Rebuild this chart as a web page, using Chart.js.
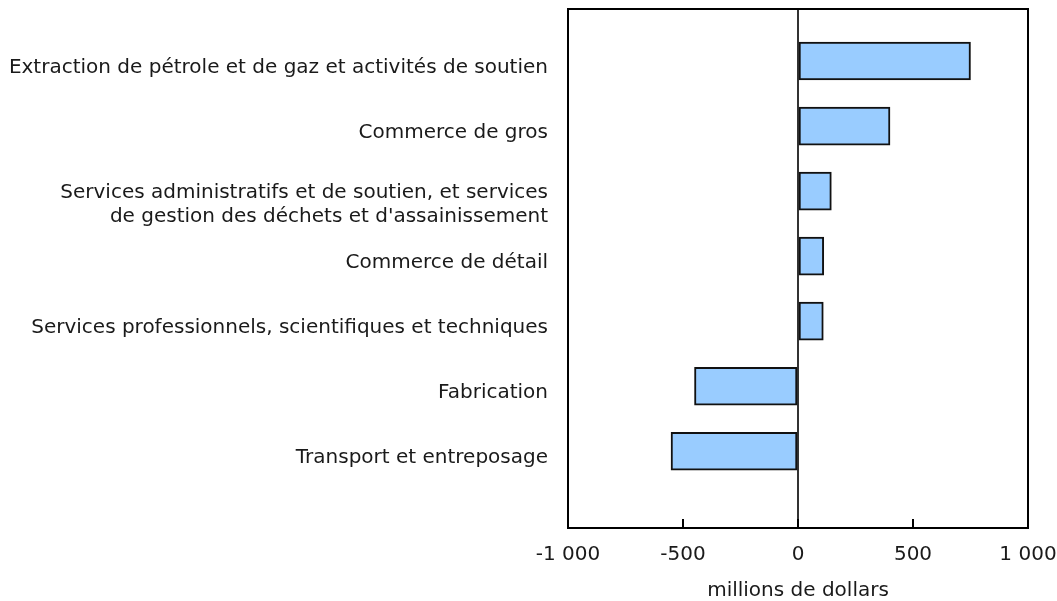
<!DOCTYPE html>
<html><head><meta charset="utf-8">
<script src="https://cdn.jsdelivr.net/npm/chart.js@4/dist/chart.umd.min.js"></script>
<style>html,body{margin:0;padding:0;background:#fff}#wrap{width:1057px;height:601px;position:relative}</style>
</head><body><div id="wrap"><canvas id="c"></canvas></div>
<script>
const categories = [
  'Extraction de pétrole et de gaz et activités de soutien',
  'Commerce de gros',
  ['Services administratifs et de soutien, et services', "de gestion des déchets et d'assainissement"],
  'Commerce de détail',
  'Services professionnels, scientifiques et techniques',
  'Fabrication',
  'Transport et entreposage'
];
const values = [750, 400, 145, 112, 110, -450, -552];
const xTickValues = [-1000, -500, 0, 500, 1000];
const xTickLabels = ['-1 000', '-500', '0', '500', '1 000'];
const xTitle = 'millions de dollars';

const FONT = {family: '"DejaVu Sans", Verdana, sans-serif', size: 20, lineHeight: 1.2};
const TITLE_FONT = {family: '"DejaVu Sans", Verdana, sans-serif', size: 20, lineHeight: 1.0};
const TEXT = '#1a1a1a';
const SINGLE_SHIFT = 0.1, MULTI_SHIFT = 0.218, LINE_STEP = 0.369;

const yTicks = [];
categories.forEach((c, i) => {
  const lines = Array.isArray(c) ? c : [c];
  const n = lines.length;
  lines.forEach((ln, j) => {
    yTicks.push({value: i + (n > 1 ? MULTI_SHIFT : SINGLE_SHIFT) + (j - (n - 1) / 2) * LINE_STEP, txt: ln});
  });
});

const framePlugin = {
  id: 'frame',
  afterDatasetsDraw(chart) {
    const {ctx, chartArea: a} = chart;
    ctx.save();
    ctx.strokeStyle = '#000';
    ctx.lineWidth = 2;
    ctx.strokeRect(a.left, a.top, a.right - a.left, a.bottom - a.top);
    ctx.restore();
  }
};

new Chart(document.getElementById('c'), {
  type: 'bar',
  data: {
    datasets: [{
      data: values.map((v, i) => ({x: v, y: i})),
      backgroundColor: '#99CCFF',
      borderColor: '#111',
      borderWidth: 2,
      borderSkipped: false,
      barThickness: 38
    }]
  },
  options: {
    indexAxis: 'y',
    responsive: true,
    maintainAspectRatio: false,
    animation: false,
    layout: {padding: {top: 9, right: 29, left: 0, bottom: 0}},
    plugins: {legend: {display: false}, tooltip: {enabled: false}},
    scales: {
      x: {
        type: 'linear', position: 'bottom', min: -1000, max: 1000, offset: false,
        afterBuildTicks(s) { s.ticks = xTickValues.map(v => ({value: v})); },
        ticks: {callback: (v, i) => xTickLabels[i], font: FONT, color: TEXT, padding: 24, maxRotation: 0, autoSkip: false},
        grid: {
          color: c => (c.tick && c.tick.value === 0) ? '#333' : 'rgba(0,0,0,0)',
          lineWidth: 2, drawTicks: true, tickLength: -9, tickColor: '#000', tickWidth: 2, offset: false
        },
        border: {display: false},
        title: {display: true, text: xTitle, font: TITLE_FONT, color: TEXT, padding: {top: 0, bottom: 0}},
        afterFit(s) { s.height = 73; s.paddingLeft = 0; s.paddingRight = 0; }
      },
      y: {
        type: 'linear', position: 'left', reverse: true, min: -0.8, max: 7.18, offset: false,
        afterBuildTicks(s) { s.ticks = yTicks.map(t => ({...t})); },
        ticks: {callback: (v, i, t) => t[i].txt, font: FONT, color: TEXT, padding: 20, autoSkip: false},
        grid: {display: false, drawTicks: false, offset: false},
        border: {display: false},
        afterFit(s) { s.width = 568; s.paddingTop = 0; s.paddingBottom = 0; }
      }
    }
  },
  plugins: [framePlugin]
});
</script>
</body></html>
